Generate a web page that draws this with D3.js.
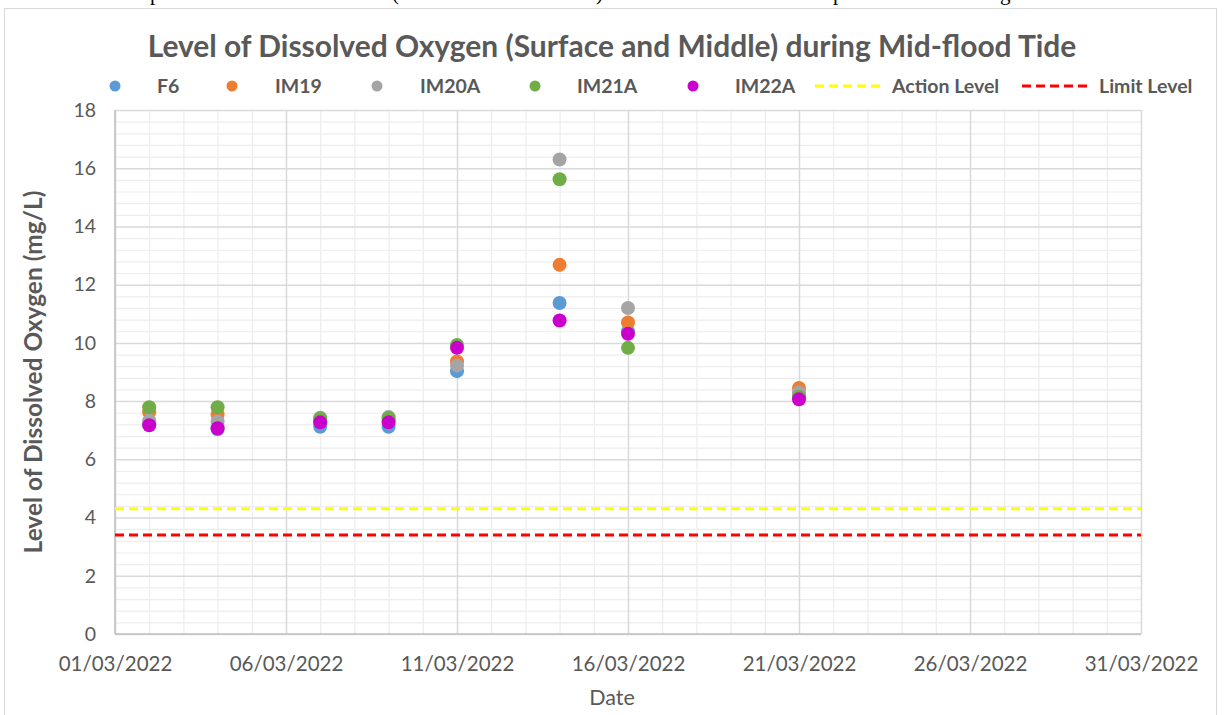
<!DOCTYPE html>
<html>
<head>
<meta charset="utf-8">
<script src="https://cdn.jsdelivr.net/npm/d3@7"></script>
<style>
  html, body { margin: 0; padding: 0; background: #ffffff; }
  svg { display: block; }
</style>
</head>
<body>
<svg id="chart" width="1225" height="715"></svg>
<script>
// ---------------- DATA ----------------
const dates = ["2022-03-02", "2022-03-04", "2022-03-07", "2022-03-09", "2022-03-11", "2022-03-14", "2022-03-16", "2022-03-21"];
const seriesNames = ["F6", "IM19", "IM20A", "IM21A", "IM22A"];
const F6    = [7.20, 7.03, 7.12, 7.12, 9.03, 11.37, 10.39, 8.18];
const IM19  = [7.62, 7.54, 7.32, 7.36, 9.36, 12.68, 10.70, 8.45];
const IM20A = [7.33, 7.30, 7.43, 7.45, 9.22, 16.30, 11.20, 8.30];
const IM21A = [7.79, 7.79, 7.40, 7.42, 9.93, 15.62, 9.83, 8.15];
const IM22A = [7.17, 7.07, 7.27, 7.27, 9.83, 10.77, 10.31, 8.06];
const actionLevel = 4.3;
const limitLevel = 3.4;
const xTickLabels = ["01/03/2022", "06/03/2022", "11/03/2022", "16/03/2022", "21/03/2022", "26/03/2022", "31/03/2022"];
const yTickLabels = [0, 2, 4, 6, 8, 10, 12, 14, 16, 18];
const colors = ["#5B9BD5", "#ED7D31", "#A5A5A5", "#70AD47", "#CC00CC"];
const titleText = "Level of Dissolved Oxygen (Surface and Middle) during Mid-flood Tide";
const yTitleText = "Level of Dissolved Oxygen (mg/L)";
const xTitleText = "Date";

// ---------------- SETUP ----------------
const svg = d3.select("#chart");
const FONT = "Lato, 'Open Sans', 'DejaVu Sans', sans-serif";
const TXT = "#595959";
const parse = d3.utcParse("%Y-%m-%d");
const parseDMY = d3.utcParse("%d/%m/%Y");

const plot = { left: 115, right: 1141, top: 110, bottom: 634 };
const x = d3.scaleUtc()
  .domain([parseDMY(xTickLabels[0]), parseDMY(xTickLabels[xTickLabels.length - 1])])
  .range([plot.left, plot.right]);
const y = d3.scaleLinear().domain([0, 18]).range([plot.bottom, plot.top]);

function fit(sel, target) {
  const node = sel.node();
  const fs = parseFloat(sel.attr("font-size"));
  const w = node.getComputedTextLength();
  if (w > 0) sel.attr("font-size", (fs * target / w).toFixed(2));
  return sel;
}

// page text cut at top (descenders of the document line above the chart)
const topGlyphs = [{c: "p", x: 150}, {c: "(", x: 392}, {c: ")", x: 596}, {c: "p", x: 833}, {c: "g", x: 1000}];
svg.selectAll("text.top").data(topGlyphs).enter().append("text")
  .attr("class", "top").attr("x", d => d.x).attr("y", 0)
  .attr("font-family", "'Liberation Serif', 'DejaVu Serif', serif")
  .attr("font-size", 21).attr("fill", "#000").text(d => d.c);

// outer chart border
svg.append("rect").attr("x", 4.5).attr("y", 8.5).attr("width", 1212).attr("height", 720)
  .attr("fill", "#fff").attr("stroke", "#D9D9D9").attr("stroke-width", 1);

// ---------------- GRID ----------------
const g = svg.append("g");
const minorY = d3.range(0, 18.0001, 0.4).map(v => +v.toFixed(1)).filter(v => Math.abs(v / 2 - Math.round(v / 2)) > 1e-6);
g.append("g").call(d3.axisLeft(y).tickValues(minorY).tickSize(-(plot.right - plot.left)).tickFormat(""))
  .attr("transform", `translate(${plot.left},0)`)
  .call(s => s.select(".domain").remove())
  .call(s => s.selectAll("line").attr("stroke", "#EDEDED").attr("stroke-width", 1.2));

const allDays = d3.utcDay.range(x.domain()[0], d3.utcDay.offset(x.domain()[1], 1));
const majorDays = xTickLabels.map(parseDMY);
const minorDays = allDays.filter(d => !majorDays.some(m => +m === +d));
g.append("g").call(d3.axisBottom(x).tickValues(minorDays).tickSize(-(plot.bottom - plot.top)).tickFormat(""))
  .attr("transform", `translate(0,${plot.bottom})`)
  .call(s => s.select(".domain").remove())
  .call(s => s.selectAll("line").attr("stroke", "#EDEDED").attr("stroke-width", 1.2));

g.append("g").call(d3.axisLeft(y).tickValues(yTickLabels).tickSize(-(plot.right - plot.left)).tickFormat(""))
  .attr("transform", `translate(${plot.left},0)`)
  .call(s => s.select(".domain").remove())
  .call(s => s.selectAll("line").attr("stroke", "#D9D9D9").attr("stroke-width", 1.5));

g.append("g").call(d3.axisBottom(x).tickValues(majorDays).tickSize(-(plot.bottom - plot.top)).tickFormat(""))
  .attr("transform", `translate(0,${plot.bottom})`)
  .call(s => s.select(".domain").remove())
  .call(s => s.selectAll("line").attr("stroke", "#D9D9D9").attr("stroke-width", 1.5));

// axis lines
svg.append("line").attr("x1", plot.left).attr("x2", plot.left).attr("y1", plot.top).attr("y2", plot.bottom)
  .attr("stroke", "#BFBFBF").attr("stroke-width", 1.5);
svg.append("line").attr("x1", plot.left).attr("x2", plot.right).attr("y1", plot.bottom).attr("y2", plot.bottom)
  .attr("stroke", "#BFBFBF").attr("stroke-width", 1.5);

// ---------------- TICK LABELS ----------------
const yAx = svg.append("g").attr("transform", `translate(${plot.left},0)`)
  .call(d3.axisLeft(y).tickValues(yTickLabels).tickSize(0).tickPadding(19).tickFormat(d3.format("d")));
yAx.select(".domain").remove();
yAx.selectAll("text").attr("font-family", FONT).attr("font-size", 19.5).attr("fill", TXT);

const xAx = svg.append("g").attr("transform", `translate(0,${plot.bottom})`)
  .call(d3.axisBottom(x).tickValues(majorDays).tickSize(0).tickPadding(22).tickFormat(d3.utcFormat("%d/%m/%Y")));
xAx.select(".domain").remove();
xAx.selectAll("text").attr("font-family", FONT).attr("font-size", 20.5).attr("fill", TXT);

// ---------------- LEVEL LINES ----------------
[[actionLevel, "#FFFF00"], [limitLevel, "#FF0000"]].forEach(([v, c]) => {
  svg.append("line").attr("x1", plot.left).attr("x2", plot.right).attr("y1", y(v)).attr("y2", y(v))
    .attr("stroke", c).attr("stroke-width", 3).attr("stroke-dasharray", "9,5");
});

// ---------------- POINTS ----------------
const series = [F6, IM19, IM20A, IM21A, IM22A];
series.forEach((vals, i) => {
  svg.append("g").selectAll("circle").data(vals).enter().append("circle")
    .attr("cx", (d, j) => x(parse(dates[j])))
    .attr("cy", d => y(d))
    .attr("r", 7)
    .attr("fill", colors[i]);
});

// ---------------- TITLES ----------------
const title = svg.append("text").attr("x", 612).attr("y", 57).attr("text-anchor", "middle")
  .attr("font-family", FONT).attr("font-weight", "bold").attr("font-size", 25).attr("fill", TXT).text(titleText);
fit(title, 929);

const yTitle = svg.append("text").attr("transform", `translate(42,${(plot.top + plot.bottom) / 2}) rotate(-90)`)
  .attr("text-anchor", "middle").attr("font-family", FONT).attr("font-weight", "bold")
  .attr("font-size", 20).attr("fill", TXT).text(yTitleText);
fit(yTitle, 363);

svg.append("text").attr("x", 612).attr("y", 705).attr("text-anchor", "middle")
  .attr("font-family", FONT).attr("font-size", 21.5).attr("fill", TXT).text(xTitleText);

// ---------------- LEGEND ----------------
const legendY = 86;
const legendMarkerX = [115, 232, 377, 535, 693];
const legendTextX = [157, 275, 420, 577, 735];
const LFS = 19.5;
seriesNames.forEach((n, i) => {
  svg.append("circle").attr("cx", legendMarkerX[i]).attr("cy", legendY).attr("r", 5.5).attr("fill", colors[i]);
  svg.append("text").attr("x", legendTextX[i]).attr("y", legendY + 7)
    .attr("font-family", FONT).attr("font-weight", "bold").attr("font-size", LFS).attr("fill", TXT).text(n);
});
const lineLegend = [["Action Level", "#FFFF00", 815, 892], ["Limit Level", "#FF0000", 1022, 1099]];
lineLegend.forEach(([n, c, lx, tx]) => {
  svg.append("line").attr("x1", lx).attr("x2", lx + 70).attr("y1", legendY).attr("y2", legendY)
    .attr("stroke", c).attr("stroke-width", 3).attr("stroke-dasharray", "9,5");
  svg.append("text").attr("x", tx).attr("y", legendY + 7)
    .attr("font-family", FONT).attr("font-weight", "bold").attr("font-size", LFS).attr("fill", TXT).text(n);
});
</script>
</body>
</html>
